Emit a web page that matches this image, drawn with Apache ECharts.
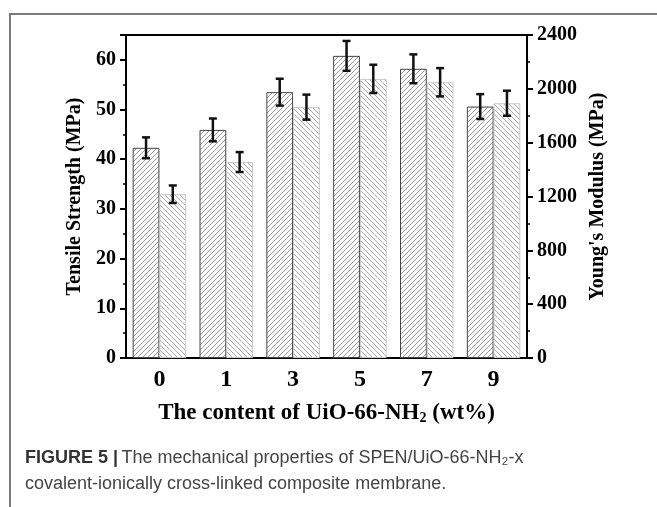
<!DOCTYPE html>
<html><head><meta charset="utf-8">
<script src="https://cdn.jsdelivr.net/npm/echarts@6/dist/echarts.min.js"></script>
<style>html,body{margin:0;padding:0;background:#fff}#c{width:657px;height:507px}</style>
</head><body><div id="c"></div>
<script>
// ---- data ----
const categories = ['0', '1', '3', '5', '7', '9'];
const tensile = [42.3, 45.9, 53.5, 60.8, 58.2, 50.6];
const tensileErr = [2.1, 2.3, 2.7, 3.0, 2.9, 2.5];
const modulus = [1217, 1456, 1864, 2074, 2049, 1893];
const modulusErr = [65, 74, 93, 105, 105, 93];
const leftTicks = {min: 0, max: 65, interval: 10};
const rightTicks = {min: 0, max: 2400, interval: 400};

function hatch(dir, color) {
  const s = 5, c = document.createElement('canvas');
  c.width = s; c.height = s;
  const g = c.getContext('2d');
  g.fillStyle = '#fff'; g.fillRect(0, 0, s, s);
  g.strokeStyle = color; g.lineWidth = 1;
  for (const k of [-s, 0, s]) {
    g.beginPath();
    if (dir > 0) { g.moveTo(k, s); g.lineTo(k + s, 0); }
    else { g.moveTo(k, 0); g.lineTo(k + s, s); }
    g.stroke();
  }
  return {image: c, repeat: 'repeat'};
}

function errData(vals, errs) {
  return vals.map((v, i) => [i, v - errs[i], v + errs[i]]);
}
function errRender(side) {
  return function (params, api) {
    const i = api.value(0);
    const band = api.size([1, 0])[0];
    const off = side * band * 0.2;
    const lo = api.coord([i, api.value(1)]);
    const hi = api.coord([i, api.value(2)]);
    const x = lo[0] + off, cap = 4;
    const st = {stroke: '#111', lineWidth: 2.5};
    return {type: 'group', children: [
      {type: 'line', shape: {x1: x, y1: lo[1], x2: x, y2: hi[1]}, style: st},
      {type: 'line', shape: {x1: x - cap, y1: lo[1], x2: x + cap, y2: lo[1]}, style: st},
      {type: 'line', shape: {x1: x - cap, y1: hi[1], x2: x + cap, y2: hi[1]}, style: st}
    ]};
  };
}

const serif = 'Liberation Serif';
const chart = echarts.init(document.getElementById('c'), null, {renderer: 'canvas'});
chart.setOption({
  animation: false,
  grid: {left: 126, right: 130, top: 35, bottom: 149, show: true, borderColor: '#000', borderWidth: 2, backgroundColor: 'transparent'},
  xAxis: [{
    type: 'category', data: categories, position: 'bottom',
    axisLine: {lineStyle: {color: '#000', width: 2}},
    axisTick: {alignWithLabel: true, length: 6, lineStyle: {color: '#000', width: 2}},
    axisLabel: {fontFamily: serif, fontWeight: 'bold', fontSize: 24, color: '#000', margin: 10},
    name: '{a|The content of UiO-66-NH}{s|2}{a| (wt%)}',
    nameLocation: 'middle', nameGap: 41,
    nameTextStyle: {rich: {
      a: {fontFamily: serif, fontWeight: 'bold', fontSize: 23, color: '#000', lineHeight: 26, verticalAlign: 'bottom'},
      s: {fontFamily: serif, fontWeight: 'bold', fontSize: 14, color: '#000', lineHeight: 18, verticalAlign: 'bottom'}
    }}
  }, {
    type: 'category', data: categories, position: 'bottom',
    axisLine: {show: false},
    axisTick: {length: 3, lineStyle: {color: '#000', width: 1.5}},
    axisLabel: {show: false}
  }],
  yAxis: [{
    type: 'value', position: 'left', min: leftTicks.min, max: leftTicks.max, interval: leftTicks.interval,
    axisLine: {show: true, lineStyle: {color: '#000', width: 2}},
    axisTick: {show: true, length: 6, lineStyle: {color: '#000', width: 2}},
    minorTick: {show: true, splitNumber: 2, length: 3, lineStyle: {color: '#000', width: 1.5}},
    splitLine: {show: false},
    axisLabel: {fontFamily: serif, fontWeight: 'bold', fontSize: 20, color: '#000', margin: 10,
      formatter: v => (v % 10 === 0 && v <= 60) ? String(v) : ''},
    name: 'Tensile Strength (MPa)', nameLocation: 'middle', nameGap: 33, nameRotate: 90,
    nameTextStyle: {fontFamily: serif, fontWeight: 'bold', fontSize: 20, color: '#000'}
  }, {
    type: 'value', position: 'right', min: rightTicks.min, max: rightTicks.max, interval: rightTicks.interval,
    axisLine: {show: true, lineStyle: {color: '#000', width: 2}},
    axisTick: {show: true, length: 6, lineStyle: {color: '#000', width: 2}},
    minorTick: {show: true, splitNumber: 2, length: 3, lineStyle: {color: '#000', width: 1.5}},
    splitLine: {show: false},
    axisLabel: {fontFamily: serif, fontWeight: 'bold', fontSize: 20, color: '#000', margin: 10,
      formatter: v => String(v)},
    name: "Young's Modulus (MPa)", nameLocation: 'middle', nameGap: 51, nameRotate: 90,
    nameTextStyle: {fontFamily: serif, fontWeight: 'bold', fontSize: 20, color: '#000'}
  }],
  series: [{
    type: 'bar', name: 'Tensile', data: tensile, xAxisIndex: 0, yAxisIndex: 0,
    barGap: '0%', barCategoryGap: '20%',
    itemStyle: {color: hatch(1, '#9a9a9a'), borderColor: '#444', borderWidth: 1}
  }, {
    type: 'bar', name: 'Modulus', data: modulus, xAxisIndex: 0, yAxisIndex: 1,
    barGap: '0%', barCategoryGap: '20%',
    itemStyle: {color: hatch(-1, '#a8a8a8'), borderColor: '#c8c8c8', borderWidth: 1}
  }, {
    type: 'custom', xAxisIndex: 0, yAxisIndex: 0, data: errData(tensile, tensileErr),
    renderItem: errRender(-1), z: 10
  }, {
    type: 'custom', xAxisIndex: 0, yAxisIndex: 1, data: errData(modulus, modulusErr),
    renderItem: errRender(1), z: 10
  }],
  graphic: [{
    type: 'polyline', shape: {points: [[10, 507], [10, 14], [657, 14]]},
    style: {stroke: '#7a7a7a', lineWidth: 2, fill: null}, silent: true
  }, {
    type: 'text', left: 25, top: 449,
    style: {
      text: '{b|FIGURE 5 |} {n|The mechanical properties of SPEN/UiO-66-NH₂-x}\n{n|covalent-ionically cross-linked composite membrane.}',
      rich: {
        b: {fontFamily: 'Liberation Sans', fontWeight: 'bold', fontSize: 18, fill: '#333', lineHeight: 26},
        n: {fontFamily: 'Liberation Sans', fontSize: 18, fill: '#444', lineHeight: 26}
      }
    }
  }]
});
</script></body></html>
